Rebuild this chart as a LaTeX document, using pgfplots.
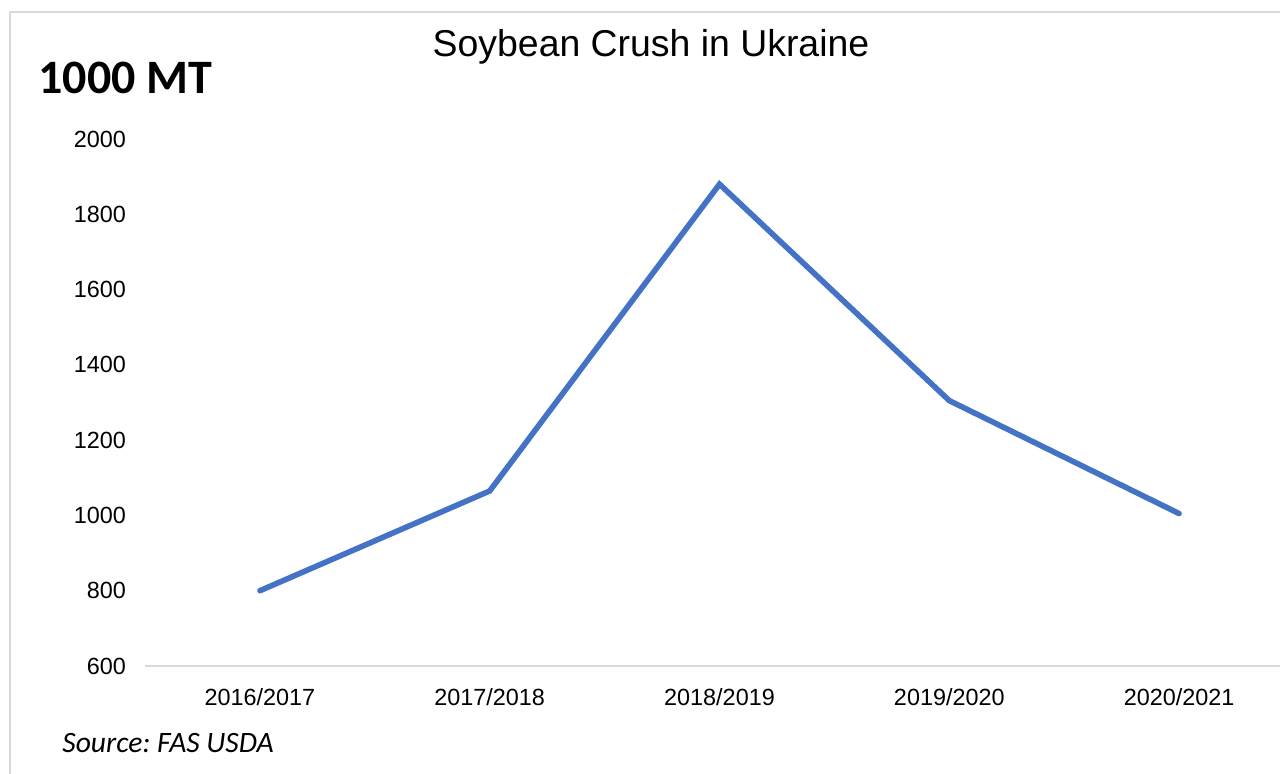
\documentclass[border=0pt]{standalone}
\usepackage{fontspec}
\setmainfont{Liberation Sans}
\newfontfamily\calibri{Carlito}
\usepackage{pgfplots}
\pgfplotsset{compat=1.18}
\definecolor{lineblue}{HTML}{4472C4}
\definecolor{frame}{HTML}{D9D9D9}
\frenchspacing
\begin{document}
\begin{tikzpicture}
\path[use as bounding box, clip] (0,0) rectangle (640pt,386.5pt);
\fill[white] (0,0) rectangle (640pt,386.5pt);
\draw[frame, line width=1pt] (5pt,-20pt) -- (5pt,380.5pt) -- (700pt,380.5pt);
\begin{axis}[
  at={(72.5pt,53.5pt)}, anchor=south west,
  scale only axis, width=574.5pt, height=263.5pt,
  xmin=-0.5, xmax=4.5, ymin=600, ymax=2000,
  xtick={0,1,2,3,4},
  xticklabels={2016/2017,2017/2018,2018/2019,2019/2020,2020/2021},
  ytick={600,800,1000,1200,1400,1600,1800,2000},
  axis line style={draw=none},
  axis x line*=bottom, axis y line*=left,
  major tick length=0pt,
  tick style={draw=none},
  /pgf/number format/assume math mode=true,
  /pgf/number format/1000 sep={},
  ticklabel style={font=\fontsize{11.7}{14}\selectfont, text=black},
  yticklabel style={xshift=-6pt},
  xticklabel style={yshift=-7.5pt},
  clip=false,
]
\draw[frame, line width=0.8pt] (axis cs:-0.5,600) -- (axis cs:5,600);
\addplot[lineblue, line width=2.8pt, line cap=round, line join=miter, mark=none] coordinates {
  (0,800) (1,1065) (2,1880) (3,1305) (4,1005)
};
\end{axis}
\node[anchor=center, font=\fontsize{18.7}{22}\selectfont] at (325.5pt,363pt) {Soybean Crush in Ukraine};
\node[anchor=base west, inner sep=0pt, font=\calibri\bfseries\fontsize{24}{28}\selectfont] at (19pt,339.5pt) {1000 MT};
\node[anchor=base west, inner sep=0pt, font=\calibri\itshape\fontsize{14.8}{17}\selectfont] at (31pt,10.5pt) {Source:\ FAS USDA};
\end{tikzpicture}
\end{document}
